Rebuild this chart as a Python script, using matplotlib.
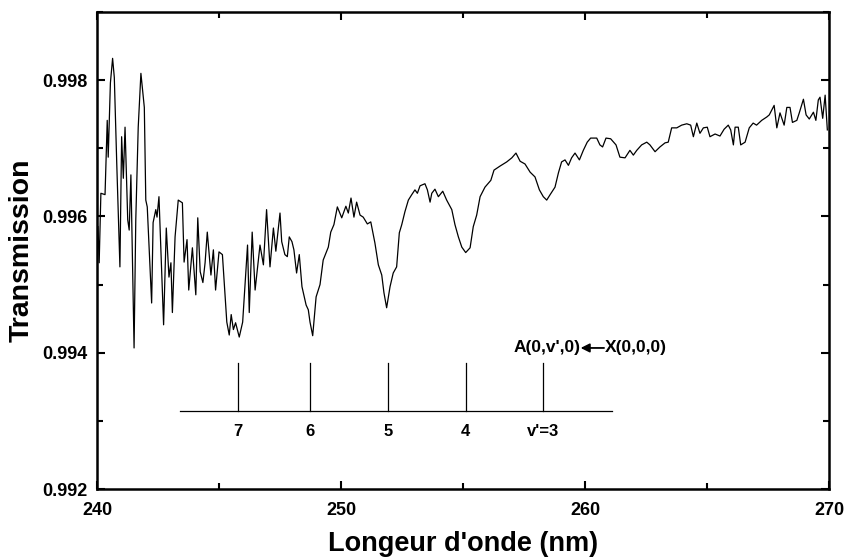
import matplotlib
matplotlib.use('Agg')
import matplotlib.pyplot as plt
from matplotlib.ticker import MultipleLocator, FormatStrFormatter

plt.rcParams['font.family'] = ['Liberation Sans', 'DejaVu Sans']
plt.rcParams['font.weight'] = 'bold'

# spectrum
wavelength = [
    240.04, 240.09, 240.16, 240.33, 240.42, 240.46, 240.55, 240.64, 240.71, 240.81,
    240.94, 241.01, 241.08, 241.15, 241.26, 241.32, 241.39, 241.52, 241.59, 241.69,
    241.80, 241.94, 242.00, 242.06, 242.24, 242.30, 242.41, 242.46, 242.54, 242.73,
    242.84, 242.95, 243.03, 243.09, 243.20, 243.33, 243.50, 243.57, 243.69, 243.76,
    243.91, 244.05, 244.13, 244.23, 244.34, 244.43, 244.52, 244.67, 244.77, 244.86,
    245.00, 245.14, 245.20, 245.32, 245.42, 245.50, 245.59, 245.68, 245.83, 245.97,
    246.17, 246.24, 246.36, 246.48, 246.68, 246.82, 246.95, 247.09, 247.23, 247.33,
    247.50, 247.57, 247.70, 247.80, 247.88, 247.99, 248.07, 248.18, 248.29, 248.40,
    248.57, 248.66, 248.73, 248.84, 248.98, 249.14, 249.27, 249.48, 249.58, 249.71,
    249.85, 250.03, 250.20, 250.30, 250.41, 250.53, 250.64, 250.78, 250.91, 251.08,
    251.22, 251.39, 251.53, 251.67, 251.76, 251.87, 252.01, 252.14, 252.28, 252.39,
    252.49, 252.62, 252.76, 252.90, 253.03, 253.13, 253.24, 253.44, 253.54, 253.65,
    253.72, 253.85, 253.99, 254.17, 254.33, 254.54, 254.67, 254.81, 254.95, 255.11,
    255.29, 255.42, 255.56, 255.70, 255.90, 256.14, 256.27, 256.52, 256.79, 257.00,
    257.17, 257.34, 257.54, 257.75, 257.95, 258.13, 258.29, 258.43, 258.57, 258.77,
    258.91, 259.04, 259.18, 259.32, 259.45, 259.59, 259.77, 259.93, 260.09, 260.23,
    260.48, 260.61, 260.72, 260.86, 261.05, 261.27, 261.43, 261.64, 261.84, 261.98,
    262.12, 262.32, 262.53, 262.66, 262.87, 263.07, 263.28, 263.41, 263.55, 263.76,
    263.96, 264.17, 264.33, 264.44, 264.58, 264.71, 264.85, 265.01, 265.12, 265.33,
    265.53, 265.70, 265.87, 265.97, 266.08, 266.15, 266.28, 266.38, 266.56, 266.73,
    266.89, 267.03, 267.24, 267.45, 267.55, 267.75, 267.86, 267.99, 268.16, 268.27,
    268.40, 268.50, 268.68, 268.78, 268.95, 269.06, 269.19, 269.36, 269.46, 269.56,
    269.63, 269.74, 269.84, 269.93,
]
transmission = [
    0.99585, 0.99532, 0.99634, 0.99632, 0.99741, 0.99687, 0.99796, 0.99832, 0.99804, 0.99678,
    0.99526, 0.99717, 0.99656, 0.99731, 0.99595, 0.99580, 0.99661, 0.99407, 0.99595, 0.99731,
    0.99810, 0.99760, 0.99624, 0.99614, 0.99473, 0.99591, 0.99610, 0.99599, 0.99629, 0.99441,
    0.99583, 0.99511, 0.99532, 0.99459, 0.99570, 0.99624, 0.99620, 0.99533, 0.99566, 0.99492,
    0.99554, 0.99485, 0.99598, 0.99519, 0.99503, 0.99532, 0.99577, 0.99514, 0.99551, 0.99492,
    0.99548, 0.99544, 0.99511, 0.99445, 0.99426, 0.99456, 0.99434, 0.99444, 0.99423, 0.99445,
    0.99558, 0.99459, 0.99577, 0.99492, 0.99558, 0.99529, 0.99610, 0.99526, 0.99583, 0.99549,
    0.99605, 0.99563, 0.99544, 0.99541, 0.99570, 0.99563, 0.99551, 0.99517, 0.99544, 0.99497,
    0.99470, 0.99463, 0.99445, 0.99425, 0.99482, 0.99500, 0.99536, 0.99555, 0.99577, 0.99588,
    0.99614, 0.99598, 0.99615, 0.99605, 0.99627, 0.99599, 0.99621, 0.99602, 0.99599, 0.99589,
    0.99592, 0.99561, 0.99529, 0.99514, 0.99488, 0.99466, 0.99497, 0.99517, 0.99526, 0.99576,
    0.99588, 0.99607, 0.99624, 0.99632, 0.99639, 0.99634, 0.99645, 0.99648, 0.99639, 0.99621,
    0.99634, 0.99640, 0.99629, 0.99637, 0.99624, 0.99610, 0.99588, 0.99570, 0.99555, 0.99547,
    0.99554, 0.99585, 0.99602, 0.99629, 0.99643, 0.99653, 0.99668, 0.99674, 0.99680, 0.99686,
    0.99693, 0.99681, 0.99677, 0.99665, 0.99658, 0.99639, 0.99629, 0.99624, 0.99632, 0.99643,
    0.99664, 0.99680, 0.99683, 0.99675, 0.99686, 0.99693, 0.99683, 0.99697, 0.99709, 0.99715,
    0.99715, 0.99705, 0.99702, 0.99715, 0.99714, 0.99705, 0.99687, 0.99686, 0.99697, 0.99690,
    0.99697, 0.99705, 0.99709, 0.99705, 0.99695, 0.99702, 0.99708, 0.99709, 0.99730, 0.99730,
    0.99734, 0.99736, 0.99734, 0.99717, 0.99737, 0.99722, 0.99730, 0.99731, 0.99717, 0.99721,
    0.99718, 0.99728, 0.99734, 0.99727, 0.99705, 0.99731, 0.99731, 0.99705, 0.99709, 0.99730,
    0.99737, 0.99734, 0.99741, 0.99746, 0.99749, 0.99763, 0.99730, 0.99752, 0.99734, 0.99760,
    0.99760, 0.99738, 0.99741, 0.99752, 0.99772, 0.99749, 0.99743, 0.99753, 0.99741, 0.99771,
    0.99775, 0.99744, 0.99778, 0.99727,
]

# band positions A(0,v',0) <- X(0,0,0)
band_pos = [245.79, 248.73, 251.94, 255.11, 258.29]
band_labels = ['7', '6', '5', '4', "v'=3"]

fig = plt.figure(figsize=(8.47, 5.59), dpi=100)
ax = fig.add_axes([0.1145, 0.1252, 0.8643, 0.8533])
ax.plot(wavelength, transmission, color='black', lw=0.9)

# bar diagram of the progression
ax.plot([243.4, 261.1], [0.99315, 0.99315], color='black', lw=0.9)
for x, lab in zip(band_pos, band_labels):
    ax.plot([x, x], [0.99315, 0.99385], color='black', lw=0.9)
    ax.text(x, 0.99285, lab, ha='center', va='center', fontsize=12, fontweight='bold')
ax.text(259.8, 0.99407, "A(0,v',0)", ha='right', va='center', fontsize=12.5, fontweight='bold')
ax.text(260.8, 0.99407, "X(0,0,0)", ha='left', va='center', fontsize=12.5, fontweight='bold')
ax.annotate('', xy=(259.82, 0.99407), xytext=(260.78, 0.99407),
            arrowprops=dict(arrowstyle='-|>', color='black', lw=1.3, mutation_scale=13,
                            shrinkA=0, shrinkB=0))

ax.set_xlim(240, 270)
ax.set_ylim(0.992, 0.999)
ax.xaxis.set_major_locator(MultipleLocator(10))
ax.xaxis.set_minor_locator(MultipleLocator(5))
ax.yaxis.set_major_locator(MultipleLocator(0.002))
ax.yaxis.set_minor_locator(MultipleLocator(0.001))
ax.yaxis.set_major_formatter(FormatStrFormatter('%.3f'))
ax.tick_params(which='both', direction='in', top=True, right=True, width=1.5)
ax.tick_params(which='major', length=6, labelsize=13)
ax.tick_params(which='minor', length=4)
ax.tick_params(axis='x', which='major', pad=9)
ax.tick_params(axis='y', which='major', pad=7)
for lab in ax.get_xticklabels() + ax.get_yticklabels():
    lab.set_fontweight('bold')
for sp in ax.spines.values():
    sp.set_linewidth(1.8)

ax.set_xlabel("Longeur d'onde (nm)", fontsize=19.5, fontweight='bold', labelpad=9)
ax.set_ylabel("Transmission", fontsize=20.5, fontweight='bold', labelpad=5)

fig.savefig('out.png', dpi=100)
